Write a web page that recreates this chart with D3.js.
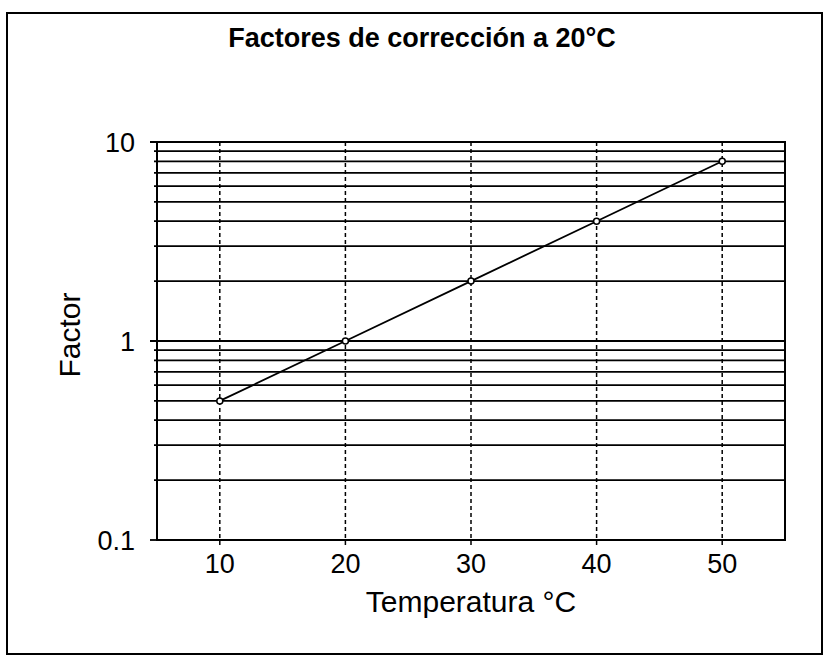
<!DOCTYPE html>
<html>
<head>
<meta charset="utf-8">
<script src="https://cdn.jsdelivr.net/npm/d3@7"></script>
<style>
  body { margin: 0; background: #fff; }
  text { font-family: "Liberation Sans", Arial, sans-serif; fill: #000; }
</style>
</head>
<body>
<div id="chart"></div>
<script>
// data
var temperatures = [10, 20, 30, 40, 50];
var factors = [0.5, 1, 2, 4, 8];
var xTicks = [10, 20, 30, 40, 50];
var yTicks = [0.1, 1, 10];
var yGrid = [0.2, 0.3, 0.4, 0.5, 0.6, 0.7, 0.8, 0.9, 1, 2, 3, 4, 5, 6, 7, 8, 9, 10];

function createChart() {
  var W = 829, H = 660;
  var left = 157, right = 785, top = 142, bottom = 540;

  var svg = d3.select("#chart").append("svg")
      .attr("width", W)
      .attr("height", H);

  // outer frame
  svg.append("rect")
      .attr("x", 7).attr("y", 13)
      .attr("width", 815).attr("height", 641)
      .attr("fill", "none")
      .attr("stroke", "#000")
      .attr("stroke-width", 2);

  var x = d3.scaleLinear().domain([5, 55]).range([left, right]);
  var y = d3.scaleLog().domain([0.1, 10]).range([bottom, top]);

  // horizontal grid, solid
  svg.append("g")
    .selectAll("line")
    .data(yGrid)
    .enter().append("line")
      .attr("x1", function(d) { return (d === 1 || d === 10) ? left - 7 : left - 3; })
      .attr("x2", right)
      .attr("y1", function(d) { return y(d); })
      .attr("y2", function(d) { return y(d); })
      .attr("stroke", "#000")
      .attr("stroke-width", 1.8);

  // vertical grid, dashed
  svg.append("g")
    .selectAll("line")
    .data(xTicks)
    .enter().append("line")
      .attr("x1", function(d) { return x(d); })
      .attr("x2", function(d) { return x(d); })
      .attr("y1", top)
      .attr("y2", bottom + 6)
      .attr("stroke", "#000")
      .attr("stroke-width", 1.5)
      .attr("stroke-dasharray", "4,3");

  // plot frame
  svg.append("rect")
      .attr("x", left).attr("y", top)
      .attr("width", right - left).attr("height", bottom - top)
      .attr("fill", "none")
      .attr("stroke", "#000")
      .attr("stroke-width", 2);

  // bottom tick at 0.1
  svg.append("line")
      .attr("x1", left - 7).attr("x2", left)
      .attr("y1", y(0.1)).attr("y2", y(0.1))
      .attr("stroke", "#000").attr("stroke-width", 1.8);

  // tick labels
  svg.append("g")
    .selectAll("text")
    .data(yTicks)
    .enter().append("text")
      .attr("x", left - 22)
      .attr("y", function(d) { return y(d); })
      .attr("dy", "0.36em")
      .style("text-anchor", "end")
      .style("font-size", "27px")
      .text(function(d) { return d3.format("~g")(d); });

  svg.append("g")
    .selectAll("text")
    .data(xTicks)
    .enter().append("text")
      .attr("x", function(d) { return x(d); })
      .attr("y", 573)
      .style("text-anchor", "middle")
      .style("font-size", "27px")
      .text(function(d) { return d; });

  // the line
  var valueline = d3.line()
      .x(function(d, i) { return x(temperatures[i]); })
      .y(function(d) { return y(d); });

  svg.append("path")
      .datum(factors)
      .attr("d", valueline)
      .attr("fill", "none")
      .attr("stroke", "#000")
      .attr("stroke-width", 1.8);

  svg.append("g")
    .selectAll("circle")
    .data(factors)
    .enter().append("circle")
      .attr("cx", function(d, i) { return x(temperatures[i]); })
      .attr("cy", function(d) { return y(d); })
      .attr("r", 3)
      .attr("fill", "#fff")
      .attr("stroke", "#000")
      .attr("stroke-width", 1.5);

  // title
  svg.append("text")
      .attr("x", 422)
      .attr("y", 47)
      .style("text-anchor", "middle")
      .style("font-size", "27px")
      .style("font-weight", "bold")
      .text("Factores de corrección a 20°C");

  // axis titles
  svg.append("text")
      .attr("x", 471)
      .attr("y", 612)
      .style("text-anchor", "middle")
      .style("font-size", "30px")
      .text("Temperatura °C");

  svg.append("text")
      .attr("transform", "translate(80,335) rotate(-90)")
      .style("text-anchor", "middle")
      .style("font-size", "30px")
      .text("Factor");
}

createChart();
</script>
</body>
</html>
